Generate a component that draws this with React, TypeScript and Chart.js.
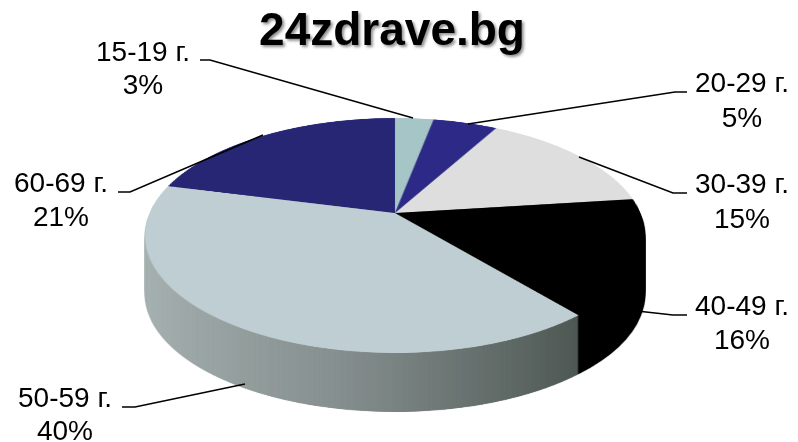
import React, { useEffect, useRef } from 'react';
import { Chart, registerables } from 'chart.js';

Chart.register(...registerables);

// ---- data ----
const categories = ['15-19 г.', '20-29 г.', '30-39 г.', '40-49 г.', '50-59 г.', '60-69 г.'];
const shares = [3, 5, 15, 16, 40, 21];
const percentLabels = ['3%', '5%', '15%', '16%', '40%', '21%'];
const titleText = '24zdrave.bg';

// ---- styles ----
const topColors = ['#a5c5c7', '#2c2a86', '#dedede', '#000000', '#bfced2', '#262675'];
const sideColors = ['#6f8c8e', '#1c1a5a', '#a0a0a0', '#000000', 'GRADIENT', '#191950'];
const sideGradientStops = ['#a9b4b3', '#858f8e', '#4e5854'];
const SIDE_GRAD_U_END = 0.64; // gradient runs across the visible front wall

// ---- layout (screen pixels) ----
const W = 798;
const H = 442;
const PIE_CX = 395;      // horizontal centre of the projected disc
const TOP_Y = 118;       // far edge of the top face
const VERTEX_Y = 213;    // projected disc centre
const BOTTOM_Y = 353;    // near edge of the top face
const HALF_W = 250;      // half width of the top face
const PIE_DEPTH = 59;
const SUPER = 2;
const PAD = 3;
const FONT = '"Liberation Sans", Arial, sans-serif';

// perspective (homography keeping rows horizontal)
const PC = (2 * VERTEX_Y - TOP_Y - BOTTOM_Y) / (BOTTOM_Y - TOP_Y);
const PB = VERTEX_Y - TOP_Y + TOP_Y * PC;
const PE = VERTEX_Y;
const PA = HALF_W * Math.sqrt(1 - PC * PC);
const yOfV = (v: number) => (PB * v + PE) / (1 + PC * v);
const vOfY = (y: number) => (PE - y) / (y * PC - PB);

const labelLayout = [
  { tx: 143, y1: 61, y2: 94, elbow: [200, 210, 60], anchor: [413, 118] },
  { tx: 742, y1: 92, y2: 127, elbow: [687, 675, 92], anchor: [468, 124] },
  { tx: 742, y1: 193, y2: 228, elbow: [687, 673, 193], anchor: [579, 157] },
  { tx: 742, y1: 315, y2: 349, elbow: [687, 673, 315], anchor: [637, 311] },
  { tx: 65, y1: 407, y2: 440, elbow: [122, 135, 407], anchor: [245, 384] },
  { tx: 61, y1: 192, y2: 226, elbow: [118, 130, 192], anchor: [263, 135] },
];

function makeCanvas(w: number, h: number) {
  const c = document.createElement('canvas');
  c.width = w;
  c.height = h;
  return c;
}

function warpDisc(target: CanvasRenderingContext2D, src: HTMLCanvasElement, R: number, dy: number) {
  const half = R + PAD;
  const vmax = half / R;
  const N = src.width;
  const yStart = Math.floor(yOfV(-vmax));
  const yEnd = Math.ceil(yOfV(vmax));
  target.save();
  target.imageSmoothingEnabled = true;
  (target as any).imageSmoothingQuality = 'high';
  for (let Y = yStart; Y < yEnd; Y++) {
    let v0 = vOfY(Y);
    let v1 = vOfY(Y + 1);
    v0 = Math.max(-vmax, Math.min(vmax, v0));
    v1 = Math.max(-vmax, Math.min(vmax, v1));
    if (v1 - v0 <= 1e-6) continue;
    const vm = (v0 + v1) / 2;
    const k = PA / (1 + PC * vm); // screen px per unit of disc radius
    const sy = (half + v0 * R) * SUPER;
    const sh = (v1 - v0) * R * SUPER;
    const dx = PIE_CX - k * vmax;
    const dw = 2 * k * vmax;
    target.drawImage(src, 0, sy, N, sh, dx, Y + dy, dw, 1);
  }
  target.restore();
}

const pie3dPlugin = {
  id: 'pie3d',
  beforeDatasetsDraw(chart: any) {
    const ctx = chart.ctx as CanvasRenderingContext2D;
    const arcs = chart.getDatasetMeta(0).data as any[];
    const a0 = arcs[0];
    const cx = a0.x, cy = a0.y, R = a0.outerRadius;
    const half = R + PAD;
    const N = Math.ceil(2 * half * SUPER);

    const renderDisc = (colorFor: (i: number, octx: CanvasRenderingContext2D) => any) => {
      const c = makeCanvas(N, N);
      const octx = c.getContext('2d') as CanvasRenderingContext2D;
      octx.setTransform(SUPER, 0, 0, SUPER, SUPER * (half - cx), SUPER * (half - cy));
      arcs.forEach((arc, i) => {
        const fake = Object.create(arc);
        fake.options = { ...arc.options, backgroundColor: colorFor(i, octx) };
        fake.draw(octx);
      });
      return c;
    };

    const sideDisc = renderDisc((i, octx) => {
      if (sideColors[i] !== 'GRADIENT') return sideColors[i];
      const g = octx.createLinearGradient(cx - R, 0, cx + SIDE_GRAD_U_END * R, 0);
      g.addColorStop(0, sideGradientStops[0]);
      g.addColorStop(0.5, sideGradientStops[1]);
      g.addColorStop(1, sideGradientStops[2]);
      return g;
    });
    const topDisc = renderDisc((i) => arcs[i].options.backgroundColor);

    const sideWarp = makeCanvas(W, H);
    const sctx = sideWarp.getContext('2d') as CanvasRenderingContext2D;
    warpDisc(sctx, sideDisc, R, 0);
    for (let d = PIE_DEPTH; d >= 1; d--) {
      ctx.drawImage(sideWarp, 0, d);
    }
    warpDisc(ctx, topDisc, R, 0);
    return false;
  },
  afterDraw(chart: any) {
    const ctx = chart.ctx as CanvasRenderingContext2D;
    // title with shadow
    ctx.save();
    ctx.font = `bold 46px ${FONT}`;
    ctx.textAlign = 'center';
    ctx.textBaseline = 'alphabetic';
    ctx.shadowColor = 'rgba(0,0,0,0.45)';
    ctx.shadowOffsetX = 2;
    ctx.shadowOffsetY = 2;
    ctx.shadowBlur = 3;
    ctx.fillStyle = '#000';
    ctx.fillText(titleText, 392, 45);
    ctx.restore();

    // labels + leader lines
    ctx.save();
    ctx.strokeStyle = '#000';
    ctx.lineWidth = 1.5;
    labelLayout.forEach((l, i) => {
      ctx.beginPath();
      ctx.moveTo(l.elbow[0], l.elbow[2]);
      ctx.lineTo(l.elbow[1], l.elbow[2]);
      ctx.lineTo(l.anchor[0], l.anchor[1]);
      ctx.stroke();
      ctx.font = `28px ${FONT}`;
      ctx.fillStyle = '#000';
      ctx.textAlign = 'center';
      ctx.textBaseline = 'alphabetic';
      ctx.fillText(categories[i], l.tx, l.y1);
      ctx.fillText(percentLabels[i], l.tx, l.y2);
    });
    ctx.restore();
  },
};

export default function App() {
  const ref = useRef<HTMLCanvasElement | null>(null);
  useEffect(() => {
    if (!ref.current) return;
    const chart = new Chart(ref.current, {
      type: 'pie',
      data: {
        labels: categories,
        datasets: [
          {
            data: shares,
            backgroundColor: topColors,
            borderWidth: 0,
            clip: false as any,
          },
        ],
      },
      options: {
        responsive: false,
        maintainAspectRatio: false,
        animation: false,
        events: [],
        layout: { padding: 0 },
        plugins: {
          legend: { display: false },
          title: { display: false },
          tooltip: { enabled: false },
        },
      },
      plugins: [pie3dPlugin],
    });
    return () => chart.destroy();
  }, []);
  return (
    <div style={{ position: 'fixed', left: 0, top: 0, width: W, height: H, background: '#fff' }}>
      <canvas ref={ref} width={W} height={H} style={{ display: 'block', width: W, height: H }} />
    </div>
  );
}
